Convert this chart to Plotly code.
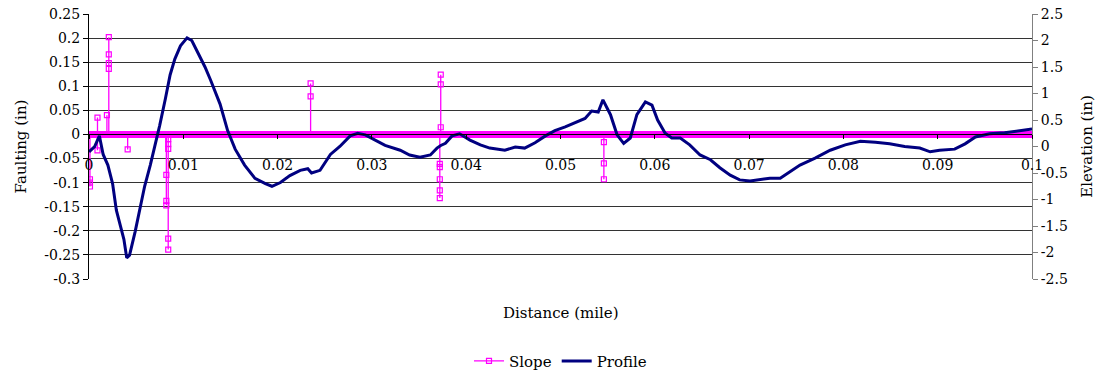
import plotly.graph_objects as go

# ---------------- data ----------------
# Profile (elevation, in) vs distance (mile)
profile_dist = [0, 0.0006, 0.0011, 0.0015, 0.002, 0.0025, 0.0029, 0.0033, 0.0037, 0.004,
                0.0043, 0.0049, 0.0054, 0.0059, 0.0065, 0.007, 0.0075, 0.0081, 0.0086, 0.0091,
                0.0097, 0.0104, 0.0109, 0.0116, 0.0123, 0.0129, 0.0139, 0.0147, 0.0155, 0.0165,
                0.0176, 0.0187, 0.0194, 0.0203, 0.0213, 0.0224, 0.0232, 0.0236, 0.0245, 0.0256,
                0.0266, 0.0277, 0.0285, 0.0293, 0.0303, 0.0314, 0.033, 0.034, 0.0351, 0.0362,
                0.0369, 0.0373, 0.0378, 0.0385, 0.0393, 0.0404, 0.0415, 0.0425, 0.0441, 0.0452,
                0.0462, 0.0473, 0.0484, 0.0494, 0.0505, 0.0515, 0.0526, 0.0533, 0.054, 0.0545,
                0.0553, 0.056, 0.0567, 0.0574, 0.0581, 0.059, 0.0597, 0.0603, 0.0611, 0.0618,
                0.0627, 0.0637, 0.0648, 0.0659, 0.0669, 0.068, 0.069, 0.0701, 0.0712, 0.0722,
                0.0733, 0.0743, 0.0754, 0.077, 0.0786, 0.0802, 0.0818, 0.0834, 0.0849, 0.0865,
                0.0881, 0.0892, 0.0902, 0.0918, 0.0929, 0.094, 0.0955, 0.0971, 0.0987, 0.1]
profile_elev = [-0.1, 0.0, 0.2, -0.15, -0.35, -0.7, -1.2, -1.5, -1.75, -2.1,
                -2.05, -1.6, -1.15, -0.75, -0.35, 0.0, 0.4, 0.9, 1.35, 1.65,
                1.9, 2.05, 2.0, 1.75, 1.5, 1.25, 0.8, 0.3, -0.05, -0.35,
                -0.6, -0.7, -0.75, -0.68, -0.55, -0.45, -0.42, -0.5, -0.45, -0.15,
                0.0, 0.2, 0.25, 0.22, 0.12, 0.02, -0.07, -0.16, -0.2, -0.16,
                -0.03, 0.02, 0.06, 0.2, 0.24, 0.12, 0.03, -0.03, -0.07, -0.01,
                -0.03, 0.07, 0.2, 0.3, 0.37, 0.45, 0.53, 0.67, 0.65, 0.88,
                0.6, 0.22, 0.06, 0.16, 0.6, 0.84, 0.78, 0.5, 0.25, 0.16,
                0.16, 0.03, -0.16, -0.25, -0.4, -0.54, -0.63, -0.65, -0.63, -0.6,
                -0.6, -0.48, -0.35, -0.22, -0.07, 0.03, 0.1, 0.08, 0.05, 0.0,
                -0.03, -0.1, -0.07, -0.05, 0.05, 0.18, 0.24, 0.26, 0.3, 0.33]

# Slope (faulting, in): zero along the section except at these spikes
section_start, section_end = 0.0, 0.1
spike_dist = [0.0001, 0.0009, 0.0019, 0.0021, 0.0041, 0.0082, 0.0084, 0.0235, 0.0372, 0.0373, 0.0546]
spike_vals = [[-0.093, -0.108, -0.1],
              [0.035, -0.033],
              [0.04],
              [0.136, 0.202, 0.166, 0.148],
              [-0.031],
              [-0.084, -0.138, -0.147],
              [-0.01, -0.02, -0.03, -0.216, -0.239],
              [0.079, 0.106],
              [-0.061, -0.068, -0.093, -0.116, -0.132],
              [0.015, 0.124, 0.104],
              [-0.016, -0.06, -0.093]]

x_tickvals = [0, 0.01, 0.02, 0.03, 0.04, 0.05, 0.06, 0.07, 0.08, 0.09, 0.1]
x_ticktext = ["0", "0.01", "0.02", "0.03", "0.04", "0.05", "0.06", "0.07", "0.08", "0.09", "0.1"]
y1_tickvals = [0.25, 0.2, 0.15, 0.1, 0.05, 0, -0.05, -0.1, -0.15, -0.2, -0.25, -0.3]
y1_ticktext = ["0.25", "0.2", "0.15", "0.1", "0.05", "0", "-0.05", "-0.1", "-0.15", "-0.2", "-0.25", "-0.3"]
y2_tickvals = [2.5, 2, 1.5, 1, 0.5, 0, -0.5, -1, -1.5, -2, -2.5]
y2_ticktext = ["2.5", "2", "1.5", "1", "0.5", "0", "-0.5", "-1", "-1.5", "-2", "-2.5"]

# slope zero samples (dense markers in the original form a solid band along 0)
band_x = [section_start, section_end]
band_y = [0.0, 0.0]

# spike path of the slope series: 0 -> values -> 0 at each spike distance
slope_x, slope_y = [section_start], [0.0]
for d, vals in zip(spike_dist, spike_vals):
    slope_x += [d] * (len(vals) + 2)
    slope_y += [0.0] + list(vals) + [0.0]
slope_x.append(section_end)
slope_y.append(0.0)

FONT = "DejaVu Serif"
MAG = "rgb(255,0,255)"
fig = go.Figure()
fig.add_trace(go.Scatter(
    x=band_x, y=band_y, mode="lines", showlegend=False, hoverinfo="skip",
    line=dict(color=MAG, width=7), opacity=1, yaxis="y"))
fig.add_trace(go.Scatter(
    x=slope_x, y=slope_y, name="Slope", mode="lines+markers",
    line=dict(color=MAG, width=1.3),
    marker=dict(symbol="square-open", size=5, color=MAG, line=dict(width=1.2, color=MAG)),
    yaxis="y"))
fig.add_trace(go.Scatter(
    x=profile_dist, y=profile_elev, name="Profile", mode="lines",
    line=dict(color="#000080", width=3), yaxis="y2"))

fig.update_layout(
    width=1104, height=374,
    margin=dict(l=89, r=72, t=14, b=95, autoexpand=False),
    paper_bgcolor="white", plot_bgcolor="white",
    font=dict(family=FONT, size=14, color="black"),
    showlegend=True,
    legend=dict(orientation="h", x=0.5, xanchor="center", y=-0.31, yanchor="middle",
                font=dict(family=FONT, size=15), bgcolor="rgba(0,0,0,0)"),
    xaxis=dict(range=[0, 0.1], tickvals=x_tickvals, ticktext=x_ticktext,
               anchor="free", position=0.3 / 0.55, showgrid=False, zeroline=False,
               showline=True, linecolor="black", linewidth=1, automargin=False,
               ticks="outside", ticklen=4, tickcolor="black", ticklabelstandoff=14,
               tickfont=dict(family=FONT, size=14)),
    yaxis=dict(range=[-0.3, 0.25], tickvals=y1_tickvals, ticktext=y1_ticktext,
               showgrid=True, gridcolor="#333333", gridwidth=1, zeroline=False,
               showline=True, linecolor="black", linewidth=1, automargin=False,
               ticks="outside", ticklen=5, tickcolor="black",
               tickfont=dict(family=FONT, size=14),
               title=dict(text="Faulting (in)", font=dict(family=FONT, size=15), standoff=14)),
    yaxis2=dict(range=[-2.5, 2.5], tickvals=y2_tickvals, ticktext=y2_ticktext,
                overlaying="y", side="right", anchor="x", showgrid=False, zeroline=False,
                showline=True, linecolor="#808080", linewidth=1, automargin=False,
                ticks="outside", ticklen=5, tickcolor="#808080",
                tickfont=dict(family=FONT, size=14),
                title=dict(text="Elevation (in)", font=dict(family=FONT, size=15), standoff=14)),
    annotations=[dict(text="Distance (mile)", xref="paper", yref="paper", x=0.5, y=-0.128,
                      xanchor="center", yanchor="middle", showarrow=False,
                      font=dict(family=FONT, size=15))],
)
fig.write_html("out.html")
